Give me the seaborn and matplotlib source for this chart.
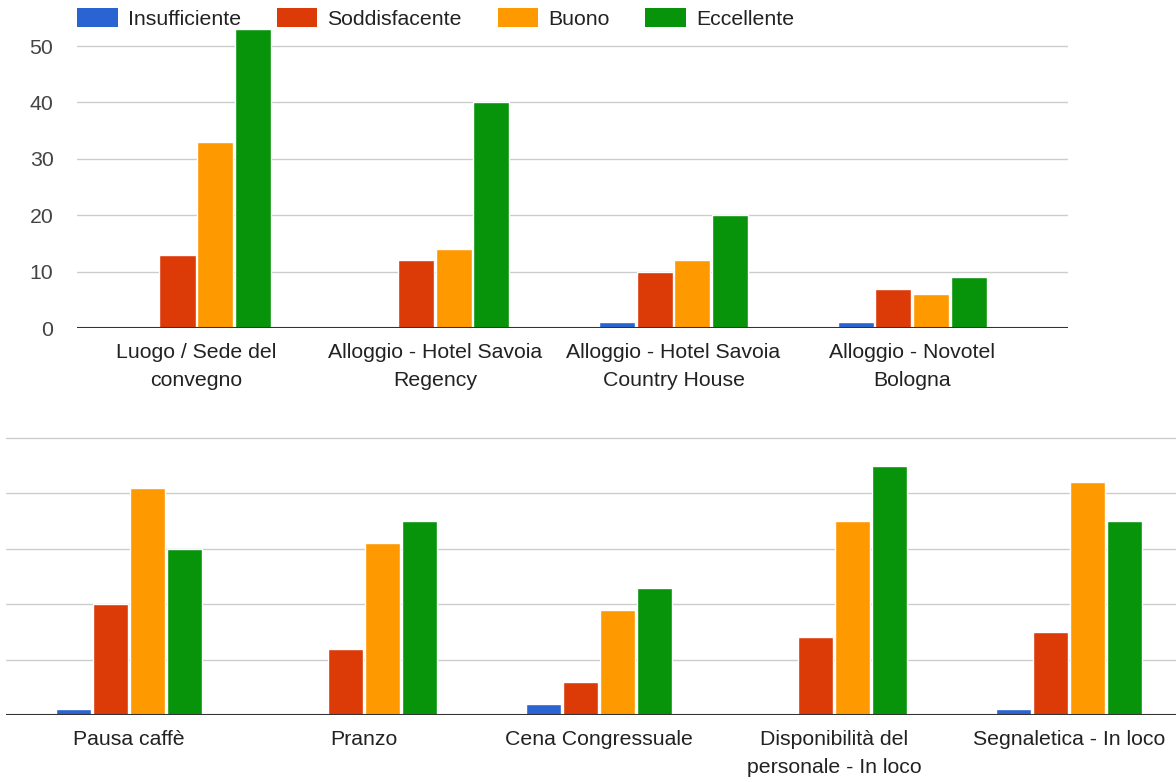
import pandas as pd
import numpy as np
import matplotlib.pyplot as plt
import seaborn as sns
from matplotlib.patches import Patch

# rating levels and colours
ratings = ['Insufficiente', 'Soddisfacente', 'Buono', 'Eccellente']
colors = ['#2a63d2', '#dc3b08', '#ff9900', '#07940a']

# top panel: venue and accommodation
top_cats = ['Luogo / Sede del convegno', 'Alloggio - Hotel Savoia Regency',
            'Alloggio - Hotel Savoia Country House', 'Alloggio - Novotel Bologna']
top_labels = ['Luogo / Sede del\nconvegno', 'Alloggio - Hotel Savoia\nRegency',
              'Alloggio - Hotel Savoia\nCountry House', 'Alloggio - Novotel\nBologna']
top_insufficiente = [0, 0, 1, 1]
top_soddisfacente = [13, 12, 10, 7]
top_buono = [33, 14, 12, 6]
top_eccellente = [53, 40, 20, 9]

# bottom panel: services
bot_cats = ['Pausa caffè', 'Pranzo', 'Cena Congressuale',
            'Disponibilità del personale - In loco', 'Segnaletica - In loco']
bot_labels = ['Pausa caffè', 'Pranzo', 'Cena Congressuale',
              'Disponibilità del\npersonale - In loco', 'Segnaletica - In loco']
bot_insufficiente = [1, 0, 2, 0, 1]
bot_soddisfacente = [20, 12, 6, 14, 15]
bot_buono = [41, 31, 19, 35, 42]
bot_eccellente = [30, 35, 23, 45, 35]

y_ticks = [0, 10, 20, 30, 40, 50]


def to_long(cats, series):
    rows = []
    for r, vals in zip(ratings, series):
        for c, v in zip(cats, vals):
            rows.append({'cat': c, 'rating': r, 'val': v})
    return pd.DataFrame(rows)


df_top = to_long(top_cats, [top_insufficiente, top_soddisfacente, top_buono, top_eccellente])
df_bot = to_long(bot_cats, [bot_insufficiente, bot_soddisfacente, bot_buono, bot_eccellente])

sns.set_style('white')
plt.rcParams['font.family'] = ['Liberation Sans', 'DejaVu Sans']

W, H = 1176, 782
FS = 15.3
fig = plt.figure(figsize=(W / 100, H / 100), dpi=100)

# axes placed in pixel coordinates of the reference
ax1 = fig.add_axes([77 / W, 1 - 328 / H, (1068 - 77) / W, (328 - 20) / H])
ax2 = fig.add_axes([6 / W, 1 - 715 / H, (W - 6) / W, (715 - 432) / H])


def draw(ax, df, cats, labels, ymax, xlim, show_y):
    sns.barplot(data=df, x='cat', y='val', hue='rating', order=cats, hue_order=ratings,
                palette=colors, ax=ax, width=0.63, gap=0.04, legend=False,
                saturation=1, errorbar=None)
    ax.set_ylim(0, ymax)
    ax.set_xlim(*xlim)
    ax.set_yticks(y_ticks)
    ax.yaxis.grid(True, color='#cccccc', linewidth=1)
    ax.set_axisbelow(True)
    ax.axhline(0, color='#333333', linewidth=1.5, zorder=5)
    for s in ax.spines.values():
        s.set_visible(False)
    ax.set_xticks(range(len(cats)), labels)
    for t in ax.get_xticklabels():
        t.set_linespacing(1.55)
    ax.tick_params(axis='x', length=0, pad=11, labelsize=FS, labelcolor='#222222')
    ax.tick_params(axis='y', length=0, pad=17, labelsize=FS, labelcolor='#444444')
    if not show_y:
        ax.set_yticklabels([])
    ax.set_xlabel('')
    ax.set_ylabel('')


draw(ax1, df_top, top_cats, top_labels, (328 - 20) / 5.64, (-0.5, 3.653), True)
draw(ax2, df_bot, bot_cats, bot_labels, (715 - 432) / 5.54, (-0.523, 4.455), False)

handles = [Patch(facecolor=c, edgecolor='none') for c in colors]
fig.legend(handles, ratings, loc='upper left', bbox_to_anchor=(77 / W, 1 - 8 / H), ncol=4,
           frameon=False, fontsize=FS, handlelength=1.92, handleheight=1.0,
           handletextpad=0.47, columnspacing=1.68, borderpad=0, borderaxespad=0,
           labelcolor='#222222')

fig.savefig('out.png', dpi=100)
